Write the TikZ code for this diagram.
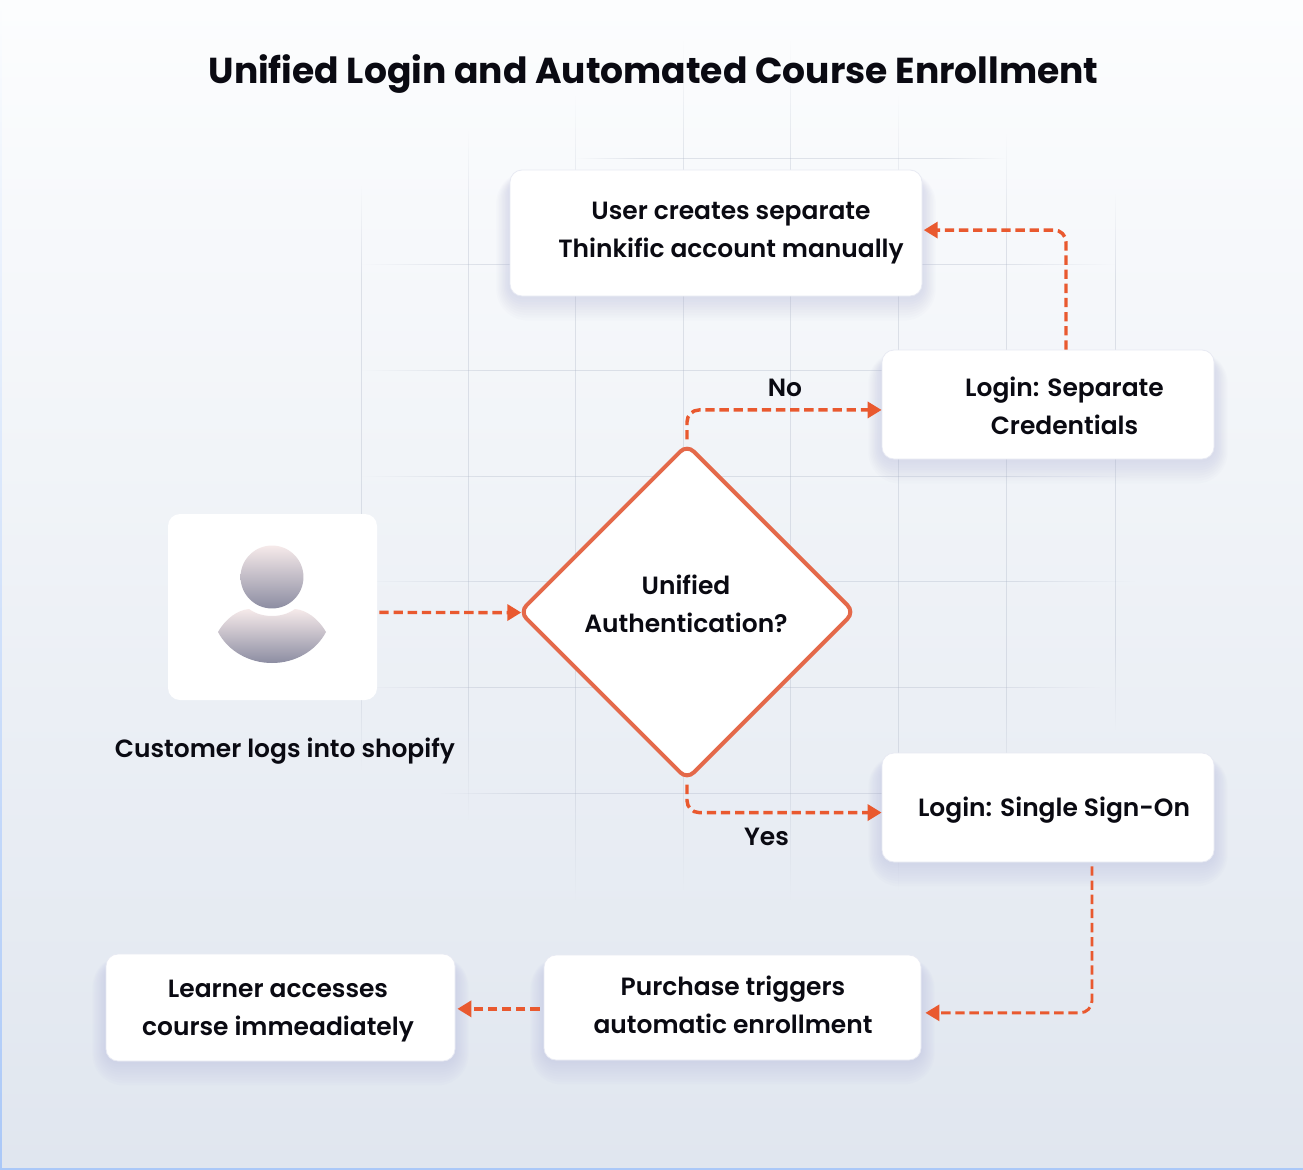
\documentclass[tikz,border=0pt]{standalone}
\usepackage{xcolor}
\usepackage{fontspec}
\setmainfont{Poppins}[UprightFont=* Medium,BoldFont=* Bold]
\newfontfamily\cardfont{Poppins SemiBold}
\usepackage{tikz}
\usetikzlibrary{shapes.geometric,arrows.meta,backgrounds,fadings}
\definecolor{pagetop}{RGB}{252,253,254}
\definecolor{pagebottom}{RGB}{224,230,239}
\definecolor{pageedge}{RGB}{170,200,248}
\definecolor{gridline}{RGB}{176,184,200}
\definecolor{cardedge}{RGB}{232,234,243}
\definecolor{cardshadow}{RGB}{172,176,216}
\definecolor{flowline}{RGB}{233,89,47}
\definecolor{diamondline}{RGB}{228,105,74}
\definecolor{inktext}{RGB}{10,10,18}
\definecolor{persontop}{RGB}{246,234,234}
\definecolor{personbottom}{RGB}{140,141,162}

\pgfdeclareverticalshading{plateaushade}{100bp}{color(0bp)=(black); color(16bp)=(white); color(84bp)=(white); color(100bp)=(black)}
\tikzfading[name=fadeends, shading=plateaushade]

\tikzset{
  card/.style={draw=cardedge, line width=0.6pt, fill=white, rounded corners=9pt, inner sep=0pt},
  cardtext/.style={align=center, text=inktext, font=\cardfont\fontsize{18.7}{28.5}\selectfont, inner sep=0pt},
  flow/.style={draw=flowline, line width=2.6pt, dash pattern=on 7pt off 3.6pt, rounded corners=9pt,
    -{Triangle[length=10.5pt,width=12pt]}},
  gridv/.style={fill=gridline, opacity=0.36, path fading=fadeends, fit fading=false},
  gridh/.style={fill=gridline, opacity=0.36, path fading=fadeends, fit fading=false}
}

% soft shadow below a card
\newcommand{\softshadow}[1]{%
  \foreach \s in {0,2,...,18}{
    \fill[cardshadow, opacity=0.04, rounded corners=9pt+0.8*\s pt]
      ([xshift=-0.55*\s pt, yshift=-\s pt]#1.south west) rectangle ([xshift=0.55*\s pt, yshift=-8pt+0.35*\s pt]#1.north east);
  }
}

\begin{document}
\begin{tikzpicture}[x=0.75pt, y=-0.75pt]
\useasboundingbox (0,0) rectangle (1303,1170);

% Title
\node[text=inktext, font=\fontsize{27.05}{34}\selectfont\bfseries, inner sep=0pt] (title) at (653.5,74) {Unified Login and Automated Course Enrollment};

% Cards and decision
\node[card, minimum width=156.75pt, minimum height=139.5pt, draw=none] (customer) at (272.5,607) {};
\node[card, minimum width=309pt, minimum height=94.5pt] (manual) at (716,233) {};
\node[card, minimum width=249pt, minimum height=81.75pt] (separate) at (1048,404.5) {};
\node[card, minimum width=249pt, minimum height=81.75pt] (sso) at (1048,807.5) {};
\node[card, minimum width=282.75pt, minimum height=78.75pt] (enroll) at (732.5,1007.5) {};
\node[card, minimum width=261.75pt, minimum height=80.25pt] (learner) at (280.5,1007.5) {};
\node[diamond, draw=diamondline, line width=3pt, fill=white, rounded corners=7pt, inner sep=0pt,
  minimum width=252pt, minimum height=252pt] (unified) at (687,612) {};

% Card texts
\node[cardtext] (customertext) at (285,751) {Customer logs into shopify};
\node[cardtext] (manualtext) at (731,233) {User creates separate\\Thinkific account manually};
\node[cardtext] (separatetext) at (1064.5,406) {Login: Separate\\Credentials};
\node[cardtext] (ssotext) at (1054,810.5) {Login: Single Sign-On};
\node[cardtext] (enrolltext) at (733,1005) {Purchase triggers\\automatic enrollment};
\node[cardtext] (learnertext) at (278,1011) {Learner accesses\\course immeadiately};
\node[cardtext] (unifiedtext) at (686,604) {Unified\\Authentication?};
\node[cardtext] (nolabel) at (785,388) {No};
\node[cardtext] (yeslabel) at (766.5,837) {Yes};

% Person icon
\shade[top color=persontop, bottom color=personbottom] (272,577) circle (23.6pt);
\shade[top color=persontop, bottom color=personbottom] (218,632)
  .. controls (226,618) and (238,610) .. (249,609)
  .. controls (256,614) and (264,616) .. (272,616)
  .. controls (280,616) and (288,614) .. (295,609)
  .. controls (306,610) and (318,618) .. (326,632)
  .. controls (316,651) and (295,663) .. (272,663)
  .. controls (249,663) and (228,651) .. (218,632) -- cycle;

% Connectors
\draw[flow, rounded corners=0pt] ([xshift=1.5pt,yshift=-4.1pt]customer.east) -- ([xshift=3.2pt,yshift=-0.4pt]unified.west);
\draw[flow, shorten <=2pt] (unified.north) |- ([yshift=-4.1pt]separate.west);
\draw[flow] ([xshift=13.5pt]separate.north) |- ([xshift=1pt,yshift=2.2pt]manual.east);
\draw[flow, shorten <=2pt] (unified.south) |- ([yshift=-3.8pt]sso.west);
\draw[flow, line width=2.2pt] ([xshift=33pt,yshift=-3pt]sso.south) |- ([xshift=3pt,yshift=-4pt]enroll.east);
\draw[flow, rounded corners=0pt] ([xshift=-3pt,yshift=-1pt]enroll.west) -- ([xshift=1.5pt,yshift=-1pt]learner.east);

% Page, grid and shadows go behind everything
\begin{scope}[on background layer]
\fill[top color=pagetop, bottom color=pagebottom] (0,0) rectangle (1303,1170);
\shade[top color=pagetop, bottom color=pageedge] (0,0) rectangle (1.5,1170);
\fill[pageedge] (0,1168) rectangle (1303,1170);
\foreach \gx/\ga/\gb in {361/185/770, 468/130/820, 575/95/900, 683/40/890, 790/40/900, 898/95/890, 1006/133/810, 1115/193/730}{
  \pgfmathsetmacro{\gmid}{(\ga+\gb)/2}
  \pgfmathsetmacro{\gscale}{(\gb-\ga)*0.00747}
  \fill[gridv, fading transform={shift={(\gx,\gmid)}, yscale=\gscale}] (\gx,\ga) rectangle (\gx+1.2,\gb);
}
\foreach \gy/\ga/\gb in {158/575/1006, 264/361/1115, 370/361/1130, 476/361/1130, 581/361/1135, 687/361/1100, 793/440/1010}{
  \pgfmathsetmacro{\gmid}{(\ga+\gb)/2}
  \pgfmathsetmacro{\gscale}{(\gb-\ga)*0.00747}
  \fill[gridh, fading transform={shift={(\gmid,\gy)}, rotate=90, yscale=\gscale}] (\ga,\gy) rectangle (\gb,\gy+1.2);
}
\softshadow{manual}
\softshadow{separate}
\softshadow{sso}
\softshadow{enroll}
\softshadow{learner}
\end{scope}
\end{tikzpicture}
\end{document}
